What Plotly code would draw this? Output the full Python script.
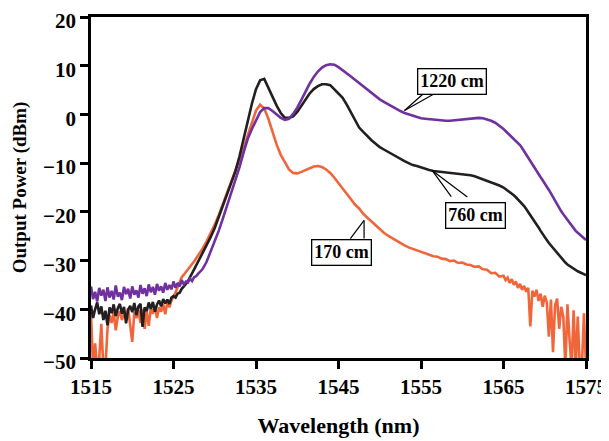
import numpy as np
import plotly.graph_objects as go

# wavelength sample positions (nm): finer where the spectra are noisy
wl_floor = np.arange(1515.0, 1527.9, 0.25)   # 1515.00 .. 1527.75
wl_main = np.arange(1528.0, 1564.6, 0.5)     # 1528.0 .. 1564.5
wl_tail = np.arange(1565.0, 1575.01, 0.25)   # 1565.00 .. 1575.00
wavelength = np.concatenate([wl_floor, wl_main, wl_tail])

# ---- 170 cm (dBm) ----
p170_floor = [
    -41.0, -52.0, -47.0, -52.0, -50.0, -43.0, -52.0, -52.0, -44.0, -41.2,
    -42.8, -40.6, -44.3, -41.5, -40.4, -42.2, -40.8, -41.6, -39.8, -43.0,
    -46.7, -40.6, -41.8, -40.2, -42.8, -40.0, -44.0, -40.5, -43.4, -39.8,
    -40.9, -39.4, -41.8, -39.6, -40.5, -38.9, -41.0, -38.6, -39.6, -38.2,
    -37.5, -36.6, -35.4, -34.3, -33.4, -32.9, -32.3, -31.8, -31.2, -30.7,
    -30.2, -29.6,
]
p170_main = [
    -29.0, -27.6, -26.1, -24.4,
    -22.6, -20.6, -18.4, -16.2, -14.0, -11.8, -9.5, -7.0, -4.3, -1.6,
    0.8, 2.0, 1.2, -0.9, -3.6, -6.2, -8.3, -9.8, -11.3, -12.0,
    -12.1, -11.8, -11.4, -11.0, -10.7, -10.6, -10.8, -11.3, -12.0, -13.0,
    -14.0, -15.2, -16.3, -17.4, -18.5, -19.3, -20.4, -21.2, -22.0, -22.8,
    -23.6, -24.3, -24.9, -25.4, -26.0, -26.4, -26.9, -27.3, -27.6, -28.0,
    -28.2, -28.6, -28.8, -29.1, -29.2, -29.6, -29.7, -30.1, -30.0, -30.5,
    -30.4, -30.8, -30.9, -31.3, -31.2, -31.8, -31.9, -32.6, -32.5, -33.3,
]
p170_tail = [
    -33.1, -34.0, -33.5, -34.6, -33.8, -35.0, -34.3, -35.6, -34.8, -36.0,
    -35.2, -36.4, -35.6, -43.5, -36.2, -37.4, -36.0, -38.3, -36.8, -39.5,
    -37.2, -38.6, -45.6, -38.0, -48.8, -39.2, -37.8, -44.0, -39.5, -41.5,
    -52.0, -39.0, -46.0, -52.0, -40.2, -52.0, -41.5, -52.0, -52.0, -40.8,
    -52.0,
]

# ---- 760 cm (dBm) ----
p760_floor = [
    -39.2, -41.8, -40.0, -38.6, -41.0, -39.4, -42.2, -40.3, -43.3, -39.6,
    -40.8, -39.0, -41.4, -39.8, -38.9, -40.9, -39.5, -42.9, -40.1, -39.3,
    -40.6, -38.7, -41.2, -39.4, -38.9, -43.6, -39.6, -40.4, -38.6, -39.9,
    -38.5, -40.5, -39.0, -38.2, -39.4, -37.9, -38.8, -38.0, -38.9, -37.6,
    -37.3, -37.6, -36.8, -36.6, -35.8, -35.4, -34.8, -34.2, -33.5, -32.7,
    -31.8, -31.0,
]
p760_main = [
    -30.2, -28.6, -27.0, -25.2,
    -23.3, -21.0, -18.7, -16.3, -14.3, -11.7, -8.6, -5.0, -1.2, 2.2,
    5.2, 7.0, 7.3, 5.5, 3.5, 1.8, 0.3, -0.7, -0.7, -0.4,
    0.5, 1.8, 3.2, 4.3, 5.2, 5.8, 6.2, 6.2, 6.0, 5.2,
    4.3, 3.4, 2.0, 0.5, -1.2, -2.7, -3.6, -4.5, -5.3, -6.0,
    -6.7, -7.2, -7.7, -8.2, -8.7, -9.2, -9.6, -10.0, -10.4, -10.6,
    -10.9, -11.1, -11.4, -11.6, -11.7, -11.8, -11.9, -12.0, -12.0, -12.1,
    -12.2, -12.3, -12.5, -12.7, -13.0, -13.3, -13.6, -13.9, -14.2, -14.6,
]
p760_tail = [
    -15.0, -15.3, -15.6, -15.9, -16.3, -16.6, -17.0, -17.4, -17.8, -18.3,
    -18.8, -19.4, -20.0, -20.6, -21.3, -21.9, -22.6, -23.2, -23.9, -24.6,
    -25.3, -25.8, -26.4, -26.9, -27.5, -28.0, -28.6, -29.1, -29.6, -30.0,
    -30.4, -30.8, -31.1, -31.4, -31.7, -32.0, -32.2, -32.4, -32.6, -32.8,
    -33.0,
]

# ---- 1220 cm (dBm) ----
p1220_floor = [
    -35.3, -37.9, -36.4, -38.4, -35.6, -37.2, -36.0, -38.3, -35.5, -37.6,
    -36.2, -38.0, -35.1, -37.4, -36.6, -38.1, -35.4, -36.9, -35.8, -37.8,
    -35.3, -37.0, -36.1, -37.6, -35.0, -36.8, -35.7, -37.3, -34.9, -36.5,
    -35.4, -37.0, -34.8, -36.2, -35.3, -36.6, -34.6, -36.0, -35.0, -35.9,
    -34.3, -35.6, -34.6, -35.3, -34.0, -34.9, -34.3, -34.5, -33.7, -34.2,
    -33.4, -33.2,
]
p1220_main = [
    -32.7, -31.8, -30.3, -28.2,
    -26.2, -23.8, -21.3, -18.7, -16.2, -13.6, -10.8, -7.8, -5.0, -3.0,
    -1.1, 0.5, 1.3, 1.3, 0.7, 0.0, -0.7, -1.1, -0.9, 0.1,
    1.4, 3.0, 4.7, 6.3, 7.7, 8.8, 9.6, 10.1, 10.3, 10.2,
    9.7, 9.1, 8.5, 7.8, 7.1, 6.4, 5.7, 5.0, 4.3, 3.7,
    3.1, 2.6, 2.1, 1.6, 1.1, 0.7, 0.3, 0.0, -0.3, -0.6,
    -0.8, -0.9, -1.0, -1.1, -1.2, -1.2, -1.3, -1.3, -1.2, -1.1,
    -1.0, -0.9, -0.8, -0.7, -0.7, -0.8, -1.0, -1.3, -1.7, -2.3,
]
p1220_tail = [
    -3.0, -3.4, -3.8, -4.1, -4.5, -4.9, -5.3, -5.8, -6.3, -6.9,
    -7.6, -8.3, -9.0, -9.7, -10.4, -11.0, -11.7, -12.3, -12.9, -13.5,
    -14.1, -14.8, -15.5, -16.2, -17.0, -17.8, -18.5, -19.2, -19.9, -20.5,
    -21.1, -21.7, -22.3, -22.9, -23.4, -23.9, -24.3, -24.7, -25.1, -25.5,
    -25.8,
]

series = [
    ("170 cm", p170_floor + p170_main + p170_tail, "rgb(241, 101, 59)"),
    ("760 cm", p760_floor + p760_main + p760_tail, "rgb(35, 31, 32)"),
    ("1220 cm", p1220_floor + p1220_main + p1220_tail, "rgb(112, 48, 160)"),
]

# callout labels: text, box centre, pointer tip, two pointer feet on the box edge
labels = [
    ("1220 cm", (1558.7, 6.7), (1553.0, 0.8), [(1555.4, 4.4), (1556.8, 4.4)]),
    ("760 cm", (1561.6, -20.7), (1556.35, -11.5), [(1558.8, -17.2), (1560.8, -17.2)]),
    ("170 cm", (1545.35, -28.4), (1548.1, -21.75), [(1546.3, -25.8), (1548.1, -25.8)]),
]

FONT = "Liberation Serif"

fig = go.Figure()
for name, vals, col in series:
    fig.add_trace(go.Scatter(
        x=wavelength,
        y=vals,
        name=name,
        mode="lines",
        line=dict(color=col, width=2.6),
    ))

for text, box, tip, feet in labels:
    for fx, fy in feet:
        fig.add_annotation(
            x=tip[0], y=tip[1], ax=fx, ay=fy,
            xref="x", yref="y", axref="x", ayref="y",
            text="", showarrow=True, arrowhead=0,
            arrowwidth=1.2, arrowcolor="black",
        )
    fig.add_annotation(
        x=box[0], y=box[1], xref="x", yref="y",
        text="<b>%s</b>" % text, showarrow=False,
        font=dict(family=FONT, size=18, color="black"),
        bgcolor="white", bordercolor="black",
        borderwidth=1.3, borderpad=2,
    )

# the page body adds an 8px margin, so the figure is 8px smaller than the window
fig.update_layout(
    width=601,
    height=433,
    showlegend=False,
    paper_bgcolor="white",
    plot_bgcolor="white",
    margin=dict(l=83, r=23, t=9, b=83),
    font=dict(family=FONT, size=21, color="black"),
    xaxis=dict(
        title=dict(text="<b>Wavelength (nm)</b>", font=dict(size=22), standoff=20),
        range=[1515, 1575],
        tick0=1515, dtick=10,
        ticks="outside", ticklen=8, tickwidth=2.5, tickcolor="black",
        showline=True, linewidth=2.5, linecolor="black", mirror=True,
        showgrid=False, zeroline=False, automargin=False,
        ticklabeloverflow="allow",
        tickprefix="<b>", ticksuffix="</b>",
    ),
    yaxis=dict(
        title=dict(text="<b>Output Power (dBm)</b>", font=dict(size=19), standoff=12),
        range=[-50, 20],
        tick0=-50, dtick=10,
        ticks="outside", ticklen=8, tickwidth=2.5, tickcolor="black",
        showline=True, linewidth=2.5, linecolor="black", mirror=True,
        showgrid=False, zeroline=False, automargin=False,
        ticklabeloverflow="allow", ticklabelshift=4,
        tickprefix="<b>", ticksuffix="</b>",
    ),
)

fig.write_html("out.html")
